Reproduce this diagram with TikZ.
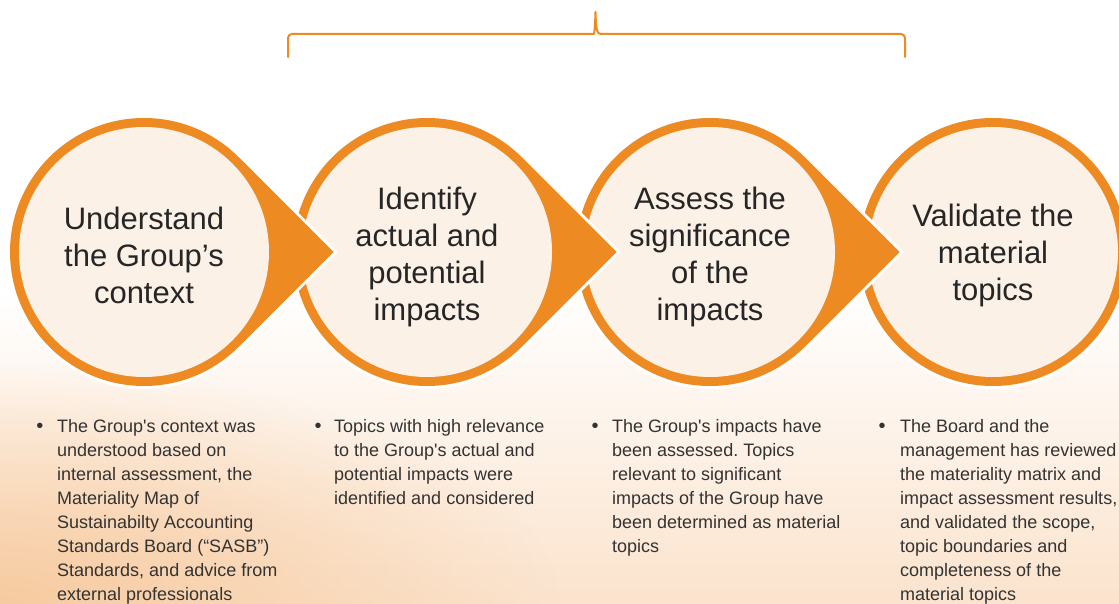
\documentclass[tikz,border=0pt]{standalone}
\usepackage{fontspec}
\setmainfont{Liberation Sans}[Ligatures=TeXOff]
\usetikzlibrary{calc,positioning,fadings}
\definecolor{ringorange}{HTML}{EE8A22}
\definecolor{discfill}{HTML}{FCF1E7}
\definecolor{bgpeach}{HTML}{FBE3CD}
\definecolor{bgwarm}{HTML}{F7CBA0}
\definecolor{headtext}{HTML}{262626}
\definecolor{bodytext}{HTML}{333333}
\tikzfading[name=softglow, inner color=transparent!0, outer color=transparent!100]
\frenchspacing
\begin{document}
\begin{tikzpicture}[x=1pt,y=-1pt,
    steptitle/.style={align=center,inner sep=0pt,text=headtext,yshift=-3pt,
        font=\fontsize{31}{37}\selectfont},
    stepnote/.style={align=left,inner sep=0pt,anchor=north west,text=bodytext,
        font=\fontsize{18}{24}\selectfont},
    bulletmark/.style={inner sep=0pt,anchor=base,text=bodytext,
        font=\fontsize{20}{24}\selectfont},
    bracket/.style={draw=ringorange,line width=2pt,line cap=round,line join=round},
    cutline/.style={draw=white,line width=6pt}
  ]
  \useasboundingbox (0,0) rectangle (1119,604);
  % background
  \fill[white] (0,0) rectangle (1119,604);
  \shade[top color=white,bottom color=bgpeach] (0,290) rectangle (1119,604);
  \fill[bgwarm,path fading=softglow] (0,604) ellipse[x radius=560,y radius=240];

  % bracket over the last three steps
  \coordinate (brL) at (288,57);
  \coordinate (brR) at (905,57);
  \draw[bracket] (brL) [rounded corners=4pt] |- (590,34) [sharp corners]
      .. controls (594,34) and (595,30) .. (595.5,12)
      .. controls (596,30) and (597,34) .. (601,34)
      [rounded corners=4pt] -| (brR);

  % steps, drawn from right to left so each tip lies on the next disc
  \foreach \i/\cx in {4/993,3/710,2/427,1/144}{
    \coordinate (c\i) at (\cx,252);
    \ifnum\i=4
      \path[preaction={cutline},fill=ringorange] (c\i) circle[radius=134];
    \else
      \path[preaction={cutline},fill=ringorange]
        ($(c\i)+(45:134)$) arc[start angle=45,end angle=315,radius=134]
        -- ($(c\i)+(189.5,0)$) -- cycle;
    \fi
    \fill[discfill] (c\i) circle[radius=125];
  }

  \node[steptitle] (title1) at (c1) {Understand\\the Group’s\\context};
  \node[steptitle,yshift=-2pt] (title2) at (c2) {Identify\\actual and\\potential\\impacts};
  \node[steptitle,yshift=-2pt] (title3) at (c3) {Assess the\\significance\\of the\\impacts};
  \node[steptitle] (title4) at (c4) {Validate the\\material\\topics};

  % notes under the steps
  \node[bulletmark] (mark1) at (40,432) {•};
  \node[stepnote] (note1) at (57,419) {The Group's context was\\understood based on\\internal assessment, the\\Materiality Map of\\Sustainabilty Accounting\\Standards Board (“SASB”)\\Standards, and advice from\\external professionals};
  \node[bulletmark] (mark2) at (318,432) {•};
  \node[stepnote] (note2) at (334,419) {Topics with high relevance\\to the Group's actual and\\potential impacts were\\identified and considered};
  \node[bulletmark] (mark3) at (595,432) {•};
  \node[stepnote] (note3) at (612,419) {The Group's impacts have\\been assessed. Topics\\relevant to significant\\impacts of the Group have\\been determined as material\\topics};
  \node[bulletmark] (mark4) at (882,432) {•};
  \node[stepnote] (note4) at (900,419) {The Board and the\\management has reviewed\\the materiality matrix and\\impact assessment results,\\and validated the scope,\\topic boundaries and\\completeness of the\\material topics};
\end{tikzpicture}
\end{document}
